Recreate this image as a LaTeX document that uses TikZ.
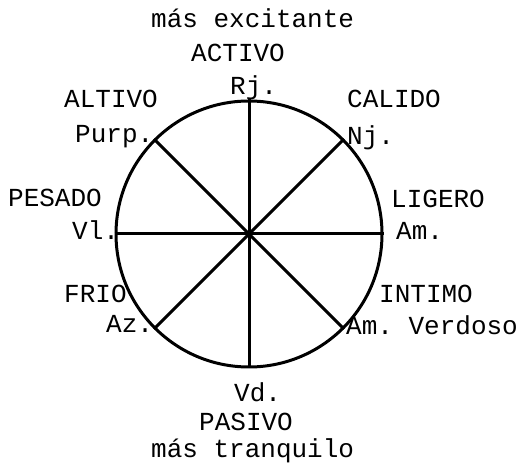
\documentclass[tikz,border=0pt]{standalone}
\usepackage{fontspec}
\setmonofont{Liberation Mono}
\begin{document}
\begin{tikzpicture}[x=1pt,y=-1pt,
  lbl/.style={font=\ttfamily\fontsize{26}{26}\selectfont, inner sep=0pt, anchor=base west},
  wheel/.style={line width=3pt}]
\useasboundingbox (0,0) rectangle (525,470);
\node[circle, draw, wheel, minimum size=266pt, inner sep=0pt] (c) at (249,234) {};
\draw[wheel] (c.north) -- (c.south);
\draw[wheel] (c.west) -- (c.east);
\draw[wheel] (c.135) -- (c.-45);
\draw[wheel] (c.45) -- (c.-135);
\node[lbl] (exc) at (151,28) {más excitante};
\node[lbl] (act) at (191,62) {ACTIVO};
\node[lbl] (rj) at (230,95) {Rj.};
\node[lbl] (alt) at (64,108) {ALTIVO};
\node[lbl] (purp) at (75,143) {Purp.};
\node[lbl] (cal) at (347,108) {CALIDO};
\node[lbl] (nj) at (347,145) {Nj.};
\node[lbl] (pes) at (8,207) {PESADO};
\node[lbl] (vl) at (72,240) {Vl.};
\node[lbl] (lig) at (391,208) {LIGERO};
\node[lbl] (am) at (396,240) {Am.};
\node[lbl] (fri) at (64,303) {FRIO};
\node[lbl] (az) at (106,333) {Az.};
\node[lbl] (int) at (379,303) {INTIMO};
\node[lbl] (amv) at (346,335) {Am. Verdoso};
\node[lbl] (vd) at (234,402) {Vd.};
\node[lbl] (pas) at (199,430) {PASIVO};
\node[lbl] (tra) at (151,457) {más tranquilo};
\end{tikzpicture}
\end{document}
